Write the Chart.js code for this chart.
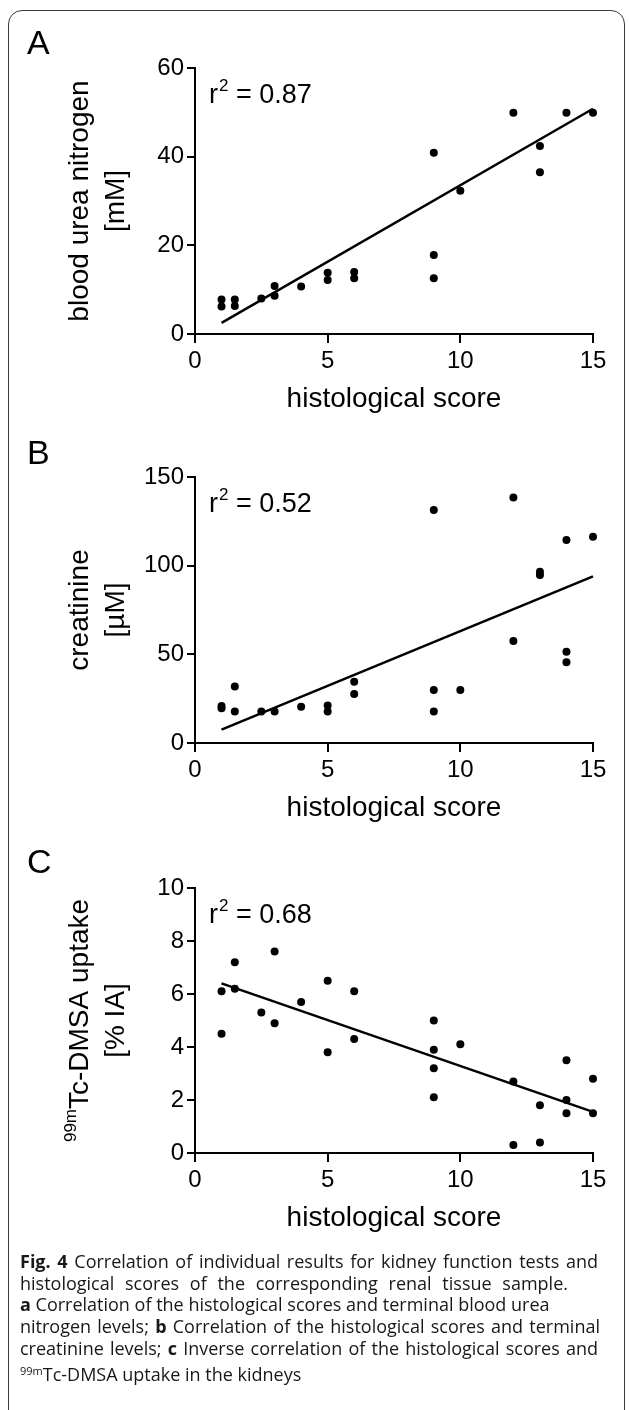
<!DOCTYPE html>
<html>
<head>
<meta charset="utf-8">
<script src="https://cdn.jsdelivr.net/npm/chart.js@4.4.1/dist/chart.umd.min.js"></script>
<style>
  body { margin: 0; background: #fff; width: 629px; height: 1410px; overflow: hidden; position: relative; }
  .frame { position: absolute; left: 8px; top: 10px; width: 615px; height: 1440px; border: 1.5px solid #3a3a3a; border-radius: 14px; }
  canvas { position: absolute; left: 0; }
  .caption { position: absolute; left: 20px; top: 1251px; font-family: "Open Sans", sans-serif; font-size: 18px; line-height: 21.7px; color: #1a1718; }
  .caption div { white-space: nowrap; }
  .caption .j { text-align: justify; text-align-last: justify; }
</style>
</head>
<body>
<div class="frame"></div>
<canvas id="chartA" width="629" height="430" style="top:0px"></canvas>
<canvas id="chartB" width="629" height="410" style="top:430px"></canvas>
<canvas id="chartC" width="629" height="410" style="top:840px"></canvas>
<div class="caption">
  <div class="j" style="width:578px"><b>Fig. 4</b> Correlation of individual results for kidney function tests and</div>
  <div class="j" style="width:548px">histological scores of the corresponding renal tissue sample.</div>
  <div class="j" style="width:511px"><b>a</b> Correlation of the histological scores and terminal blood urea</div>
  <div class="j" style="width:580px">nitrogen levels; <b>b</b> Correlation of the histological scores and terminal</div>
  <div class="j" style="width:578px">creatinine levels; <b>c</b> Inverse correlation of the histological scores and</div>
  <div><sup style="font-size:11px;vertical-align:6px">99m</sup>Tc-DMSA uptake in the kidneys</div>
</div>
<script>
// histological score ticks, shared by all three panels
const xTicks = [0, 5, 10, 15];

// A: blood urea nitrogen [mM]
const scoreA = [1, 1, 1.5, 1.5, 2.5, 3, 3, 4, 5, 5, 6, 6, 9, 9, 9, 10, 12, 13, 13, 14, 15];
const bunA = [7.8, 6.2, 7.8, 6.3, 8.0, 10.8, 8.6, 10.7, 13.8, 12.2, 14.0, 12.6, 40.9, 17.8, 12.6, 32.3, 49.9, 42.4, 36.5, 49.9, 49.9];
const fitAx = [1, 15];
const fitAy = [2.5, 50.8];
const yTicksA = [0, 20, 40, 60];

// B: creatinine [uM]
const scoreB = [1, 1, 1.5, 1.5, 2.5, 3, 4, 5, 5, 6, 6, 9, 9, 9, 10, 12, 12, 13, 13, 14, 14, 14, 15];
const creaB = [20.9, 19.6, 31.8, 17.7, 17.7, 17.7, 20.5, 21.1, 17.7, 34.6, 27.6, 131.4, 29.9, 17.7, 29.9, 138.5, 57.5, 96.6, 94.7, 114.5, 51.5, 45.5, 116.3];
const fitBx = [1, 15];
const fitBy = [7.5, 94];
const yTicksB = [0, 50, 100, 150];

// C: 99mTc-DMSA uptake [% IA]
const scoreC = [1, 1, 1.5, 1.5, 2.5, 3, 3, 4, 5, 5, 6, 6, 9, 9, 9, 9, 10, 12, 12, 13, 13, 14, 14, 14, 15, 15];
const dmsaC = [6.1, 4.5, 7.2, 6.2, 5.3, 7.6, 4.9, 5.7, 6.5, 3.8, 6.1, 4.3, 5.0, 3.9, 3.2, 2.1, 4.1, 2.7, 0.3, 1.8, 0.4, 3.5, 2.0, 1.5, 2.8, 1.5];
const fitCx = [1, 15];
const fitCy = [6.4, 1.55];
const yTicksC = [0, 2, 4, 6, 8, 10];

const FONT = '"Liberation Sans", Arial, Helvetica, sans-serif';

const toPts = (xs, ys) => xs.map((x, i) => ({ x: x, y: ys[i] }));

// letters, axis titles and r^2 note drawn onto the chart canvas
const panelText = {
  id: 'panelText',
  afterDraw(chart, args, o) {
    const ctx = chart.ctx;
    const a = chart.chartArea;
    ctx.save();
    ctx.fillStyle = '#000';
    ctx.textBaseline = 'alphabetic';

    ctx.textAlign = 'left';
    ctx.font = '34px ' + FONT;
    ctx.fillText(o.letter, 27, o.letterY);

    // r^2 = ...
    let x = a.left + 14;
    const yb = a.top + 35;
    ctx.font = '27px ' + FONT;
    ctx.fillText('r', x, yb);
    x += ctx.measureText('r').width + 1;
    ctx.font = '17px ' + FONT;
    ctx.fillText('2', x, yb - 12);
    x += ctx.measureText('2').width;
    ctx.font = '27px ' + FONT;
    ctx.fillText(' = ' + o.r2, x, yb);

    // x title
    ctx.textAlign = 'center';
    ctx.font = '28px ' + FONT;
    ctx.fillText('histological score', (a.left + a.right) / 2, a.bottom + 73);

    // y title, two rotated lines
    const cy = (a.top + a.bottom) / 2;
    ctx.save();
    ctx.translate(88, cy);
    ctx.rotate(-Math.PI / 2);
    ctx.textAlign = 'left';
    ctx.font = '17px ' + FONT;
    const ws = o.ySup ? ctx.measureText(o.ySup).width : 0;
    ctx.font = '28px ' + FONT;
    const wm = ctx.measureText(o.yLine1).width;
    let sx = -(ws + wm) / 2;
    if (o.ySup) {
      ctx.font = '17px ' + FONT;
      ctx.fillText(o.ySup, sx, -12);
      sx += ws;
      ctx.font = '28px ' + FONT;
    }
    ctx.fillText(o.yLine1, sx, 0);
    ctx.restore();

    ctx.save();
    ctx.translate(124, cy);
    ctx.rotate(-Math.PI / 2);
    ctx.textAlign = 'center';
    ctx.font = '28px ' + FONT;
    ctx.fillText(o.yLine2, 0, 0);
    ctx.restore();

    ctx.restore();
  }
};

function makePanel(id, xs, ys, fx, fy, yMax, yTicks, area, h, text) {
  new Chart(document.getElementById(id), {
    type: 'scatter',
    data: {
      datasets: [
        {
          data: toPts(xs, ys),
          pointRadius: 4,
          pointHoverRadius: 4,
          backgroundColor: '#000',
          borderWidth: 0,
          clip: false
        },
        {
          data: toPts(fx, fy),
          showLine: true,
          pointRadius: 0,
          borderColor: '#000',
          borderWidth: 2.5,
          clip: false
        }
      ]
    },
    options: {
      responsive: false,
      animation: false,
      devicePixelRatio: 1,
      layout: {
        padding: { left: 0, top: area.top, right: 629 - area.right, bottom: h - area.bottom - 60 }
      },
      plugins: {
        legend: { display: false },
        tooltip: { enabled: false },
        panelText: text
      },
      scales: {
        x: {
          type: 'linear',
          min: 0,
          max: 15,
          afterBuildTicks: s => { s.ticks = xTicks.map(v => ({ value: v })); },
          afterFit: s => { s.height = 60; },
          grid: { drawOnChartArea: false, color: '#000', lineWidth: 2, tickLength: 9 },
          border: { color: '#000', width: 2 },
          ticks: { color: '#000', font: { size: 24, family: FONT }, padding: 4, maxRotation: 0, autoSkip: false }
        },
        y: {
          type: 'linear',
          min: 0,
          max: yMax,
          afterBuildTicks: s => { s.ticks = yTicks.map(v => ({ value: v })); },
          afterFit: s => { s.width = area.left; },
          grid: { drawOnChartArea: false, color: '#000', lineWidth: 2, tickLength: 8 },
          border: { color: '#000', width: 2 },
          ticks: { color: '#000', font: { size: 24, family: FONT }, padding: 3, autoSkip: false }
        }
      }
    },
    plugins: [panelText]
  });
}

makePanel('chartA', scoreA, bunA, fitAx, fitAy, 60, yTicksA,
  { left: 195, right: 593, top: 68, bottom: 334 }, 430,
  { letter: 'A', letterY: 54, r2: '0.87', yLine1: 'blood urea nitrogen', yLine2: '[mM]' });

makePanel('chartB', scoreB, creaB, fitBx, fitBy, 150, yTicksB,
  { left: 195, right: 593, top: 47, bottom: 313 }, 410,
  { letter: 'B', letterY: 34, r2: '0.52', yLine1: 'creatinine', yLine2: '[\u00b5M]' });

makePanel('chartC', scoreC, dmsaC, fitCx, fitCy, 10, yTicksC,
  { left: 195, right: 593, top: 48, bottom: 313 }, 410,
  { letter: 'C', letterY: 33, r2: '0.68', ySup: '99m', yLine1: 'Tc-DMSA uptake', yLine2: '[% IA]' });
</script>
</body>
</html>
